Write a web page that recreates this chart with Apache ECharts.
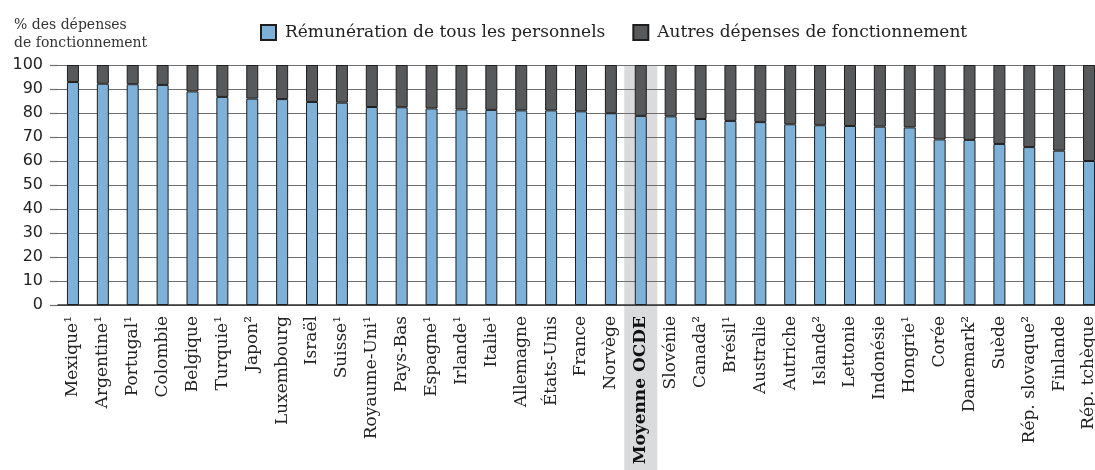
<!DOCTYPE html>
<html>
<head>
<meta charset="utf-8">
<script src="https://cdn.jsdelivr.net/npm/echarts@6/dist/echarts.min.js"></script>
<style>
html,body{margin:0;padding:0;background:#fff;}
#chart{width:1095px;height:470px;}
</style>
</head>
<body>
<div id="chart"></div>
<script>
var categories = ['Mexique¹','Argentine¹','Portugal¹','Colombie','Belgique','Turquie¹','Japon²','Luxembourg','Israël','Suisse¹','Royaume-Uni¹','Pays-Bas','Espagne¹','Irlande¹','Italie¹','Allemagne','États-Unis','France','Norvège','Moyenne OCDE','Slovénie','Canada²','Brésil¹','Australie','Autriche','Islande²','Lettonie','Indonésie','Hongrie¹','Corée','Danemark²','Suède','Rép. slovaque²','Finlande','Rép. tchèque'];
var remuneration = [92.9,92.2,92.0,91.7,89.0,86.7,86.0,85.8,84.6,84.3,82.5,82.4,81.9,81.5,81.3,81.1,81.1,80.7,79.9,78.8,78.6,77.5,76.7,76.2,75.3,74.9,74.6,74.3,74.0,69.0,68.8,67.1,65.8,64.3,60.0];
var autres = [7.1,7.8,8.0,8.3,11.0,13.3,14.0,14.2,15.4,15.7,17.5,17.6,18.1,18.5,18.7,18.9,18.9,19.3,20.1,21.2,21.4,22.5,23.3,23.8,24.7,25.1,25.4,25.7,26.0,31.0,31.2,32.9,34.2,35.7,40.0];
var highlight = 'Moyenne OCDE';
var yTicks = [0,10,20,30,40,50,60,70,80,90,100];

var chart = echarts.init(document.getElementById('chart'));
var serif = 'DejaVu Serif';
var bandData = categories.map(function(c){ return c === highlight ? 1 : '-'; });

chart.setOption({
  animation: false,
  title: {
    text: '% des dépenses\nde fonctionnement',
    left: 9, top: 11,
    textStyle: {fontFamily: serif, fontSize: 14, fontWeight: 'normal', color: '#333', lineHeight: 18}
  },
  legend: {
    left: 255, top: 19,
    itemWidth: 15, itemHeight: 15, itemGap: 27,
    icon: 'rect',
    data: ['Rémunération de tous les personnels','Autres dépenses de fonctionnement'],
    textStyle: {fontFamily: serif, fontSize: 17, color: '#222', padding: [0,0,0,4]}
  },
  grid: [
    {left: 58, width: 1046, top: 65, height: 240, outerBoundsMode: 'none', containLabel: false},
    {left: 58, width: 1046, top: 65, height: 405, outerBoundsMode: 'none', containLabel: false}
  ],
  xAxis: [
    {
      type: 'category', gridIndex: 0, data: categories, z: 3,
      axisLine: {lineStyle: {color: '#333', width: 1.5}},
      axisTick: {show: false},
      axisLabel: {
        rotate: 90, margin: 11, interval: 0,
        fontFamily: serif, fontSize: 17, color: '#222',
        formatter: function(v){ return v === highlight ? '{b|' + v + '}' : v; },
        rich: {b: {fontFamily: serif, fontSize: 17, fontWeight: 'bold', color: '#111'}}
      }
    },
    {type: 'category', gridIndex: 1, data: categories, show: false}
  ],
  yAxis: [
    {
      type: 'value', gridIndex: 0, min: 0, max: 100, interval: 10, z: 2,
      axisLine: {show: false},
      axisTick: {show: true, length: 8, lineStyle: {color: '#6f6f6f', width: 1.2}},
      splitLine: {lineStyle: {color: '#6f6f6f', width: 1.2}},
      axisLabel: {margin: 15, fontFamily: 'DejaVu Sans', fontSize: 16, color: '#222',
        formatter: function(v){ return yTicks.indexOf(v) >= 0 ? String(v) : ''; }}
    },
    {type: 'value', gridIndex: 1, min: 0, max: 1, show: false}
  ],
  series: [
    {
      name: 'band', type: 'bar', xAxisIndex: 1, yAxisIndex: 1, data: bandData,
      barWidth: 33, z: 1, silent: true,
      itemStyle: {color: '#dadbdd'}
    },
    {
      name: 'Rémunération de tous les personnels', type: 'bar', stack: 'total',
      xAxisIndex: 0, yAxisIndex: 0, data: remuneration, barWidth: 12, z: 4,
      itemStyle: {color: '#7db1d8', borderColor: '#1e1e1e', borderWidth: 1}
    },
    {
      name: 'Autres dépenses de fonctionnement', type: 'bar', stack: 'total',
      xAxisIndex: 0, yAxisIndex: 0, data: autres, barWidth: 12, z: 4,
      itemStyle: {color: '#58595b', borderColor: '#1e1e1e', borderWidth: 1}
    }
  ]
});
</script>
</body>
</html>
